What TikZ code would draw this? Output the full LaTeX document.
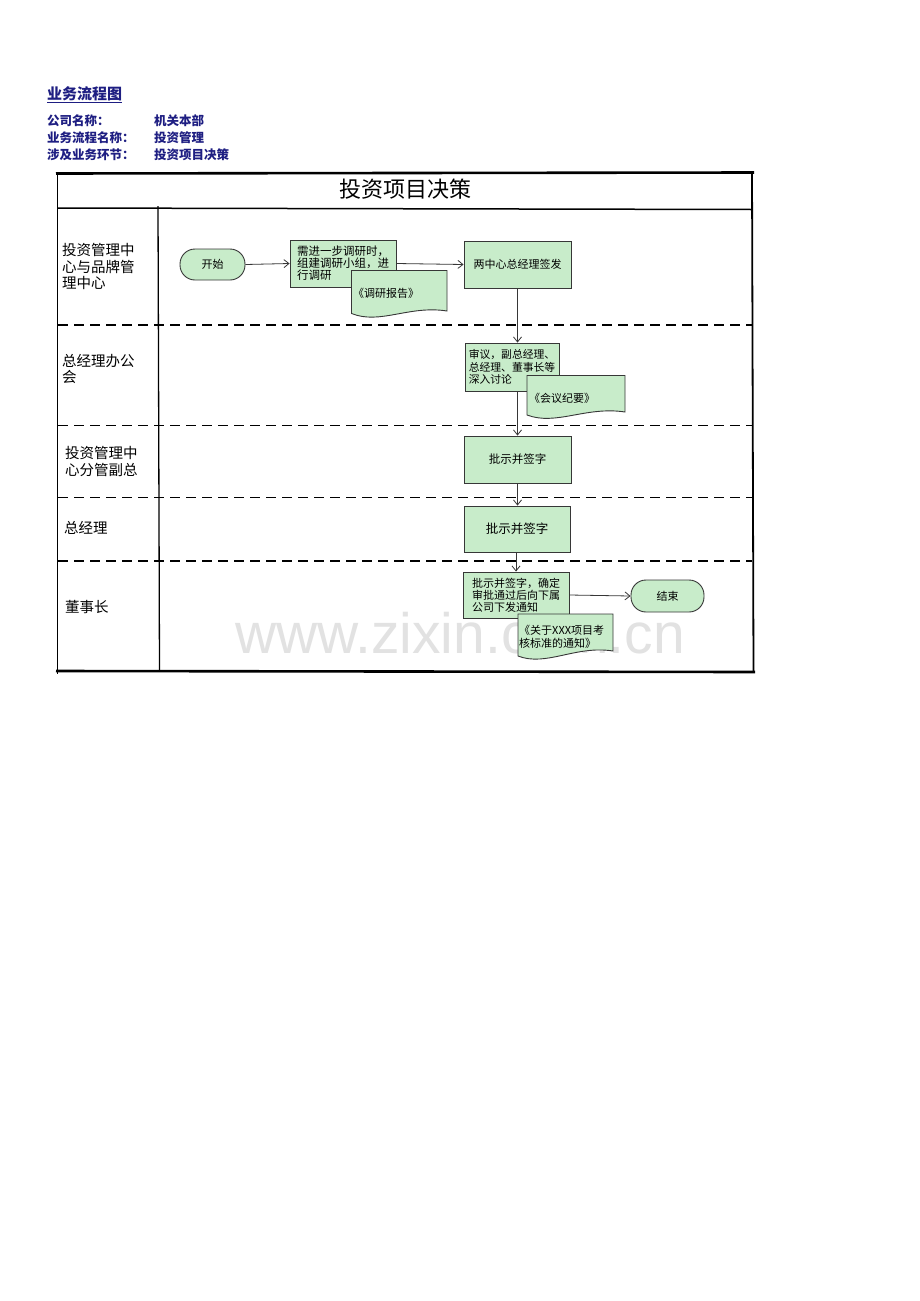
\documentclass[tikz,border=0pt]{standalone}
\usepackage{fontspec}
\setmainfont{Noto Sans CJK SC}
\newfontfamily\wmfont{Liberation Sans}
\usetikzlibrary{arrows.meta,calc}
\definecolor{boxfill}{RGB}{200,236,202}
\definecolor{boxline}{RGB}{55,55,55}
\definecolor{navy}{RGB}{30,30,130}
\definecolor{wmgray}{RGB}{226,226,226}
\newcommand\fs[2]{\fontsize{#1}{#2}\selectfont}
\begin{document}
\begin{tikzpicture}[x=1pt,y=-1pt,
  proc/.style={draw=boxline,fill=boxfill,line width=0.9pt,rectangle,inner sep=0pt,align=left,font=\fs{11}{12}},
  term/.style={draw=boxline,fill=boxfill,line width=0.9pt,rounded corners=15pt,inner sep=0pt,font=\fs{11}{12}},
  docline/.style={draw=boxline,fill=boxfill,line width=0.9pt},
  doctext/.style={inner sep=0pt,anchor=west,align=left,font=\fs{11}{13}},
  flow/.style={draw=boxline,line width=0.8pt,-{Straight Barb[length=5pt,width=8pt]}},
  lanelabel/.style={anchor=west,align=left,inner sep=0pt,font=\fs{14.5}{16.5}},
  hdr/.style={anchor=west,inner sep=0pt,text=navy,font=\bfseries\fs{12.5}{14}},
  framethick/.style={line width=2.6pt,black},
  frameline/.style={line width=1.8pt,black},
  lanedash/.style={line width=1.4pt,black,dash pattern=on 10pt off 6pt},
]
\fill[white] (0,0) rectangle (920,1301);
\useasboundingbox (0,0) rectangle (920,1301);

% watermark
\node[text=wmgray,font=\wmfont\fs{57}{60},inner sep=0pt] (wm) at (460,633) {www.zixin.com.cn};

% header
\node[hdr,font=\bfseries\fs{15}{16}] (hd) at (47,94) {业务流程图};
\draw[navy,line width=1.2pt] (hd.west |- 0,102.5) -- (hd.east |- 0,102.5);
\node[hdr] (l1) at (47,121) {公司名称：};
\node[hdr] (v1) at (154,121) {机关本部};
\node[hdr] (l2) at (47,138) {业务流程名称：};
\node[hdr] (v2) at (154,138) {投资管理};
\node[hdr] (l3) at (47,155) {涉及业务环节：};
\node[hdr] (v3) at (154,155) {投资项目决策};

% frame
\draw[framethick] (56,173.5) -- (754,172.5);
\draw[frameline] (57.5,173) -- (57.5,674);
\draw[frameline] (752,172) -- (753.5,672);
\draw[framethick] (56,671) -- (755,672);
\draw[line width=1.5pt] (57.5,208) -- (752,209.5);
\draw[line width=1.3pt] (158,206) -- (159.5,671);
\node[inner sep=0pt,font=\fs{22}{24}] (title) at (405,189) {投资项目决策};

% lane separators
\draw[lanedash] (58,325) -- (752,325);
\draw[lanedash] (58,425.5) -- (752,425.5);
\draw[lanedash] (58,497.5) -- (752,497.5);
\draw[lanedash] (58,561) -- (752,561);

% lane labels
\node[lanelabel] (lane1) at (62,266.5) {投资管理中\\心与品牌管\\理中心};
\node[lanelabel] (lane2) at (62,369) {总经理办公\\会};
\node[lanelabel] (lane3) at (65,461.5) {投资管理中\\心分管副总};
\node[lanelabel] (lane4) at (64,527.5) {总经理};
\node[lanelabel] (lane5) at (65,607.5) {董事长};

% process nodes
\node[term,minimum width=65pt,minimum height=31pt] (start) at (212.5,264.5) {开始};
\node[proc,minimum width=106pt,minimum height=47pt,font=\fs{11.5}{12}] (b1) at (343,263.5) {需进一步调研时，\\组建调研小组，进\\行调研};
\node[proc,minimum width=107pt,minimum height=47pt] (b2) at (517.5,264.5) {两中心总经理签发};
\node[proc,minimum width=94pt,minimum height=48pt,font=\fs{10.8}{12.5}] (b3) at (512,367) {审议，副总经理、\\总经理、董事长等\\深入讨论};
\node[proc,minimum width=107pt,minimum height=47pt,font=\fs{11.5}{12}] (b4) at (517.5,459.5) {批示并签字};
\node[proc,minimum width=106pt,minimum height=46pt,font=\fs{12.5}{13}] (b5) at (517,529) {批示并签字};
\node[proc,minimum width=106pt,minimum height=46pt,font=\fs{11}{11.8}] (b6) at (516,595) {批示并签字，确定\\审批通过后向下属\\公司下发通知};
\node[term,minimum width=73pt,minimum height=32pt] (end) at (667.5,596) {结束};

% connectors
\draw[flow] (start.east) -- (b1.west);
\draw[flow] (b1.east) -- (b2.west);
\draw[flow] (b2.south) -- (b2.south |- b3.north);
\draw[flow] (b4.north |- b3.south) -- (b4.north);
\draw[flow] (b4.south) -- (b4.south |- b5.north);
\draw[flow] (b6.north |- b5.south) -- (b6.north);
\draw[flow] (b6.east) -- (end.west);

% documents
\draw[docline] (351.5,270.5) -- (447,270.5) -- (447,311) .. controls (409,305) and (380,325) .. (351.5,313.5) -- cycle;
\node[doctext] (d1) at (353,293) {《调研报告》};

\draw[docline] (527,375.5) -- (625,375.5) -- (625,412) .. controls (586,406) and (556,426) .. (527,415) -- cycle;
\node[doctext] (d2) at (529,398) {《会议纪要》};

\draw[docline] (518,614) -- (613,614) -- (613,651) .. controls (576,645) and (546,667) .. (518,656) -- cycle;
\node[doctext] (d3) at (519,637) {《关于XXX项目考\\核标准的通知》};
\end{tikzpicture}
\end{document}
